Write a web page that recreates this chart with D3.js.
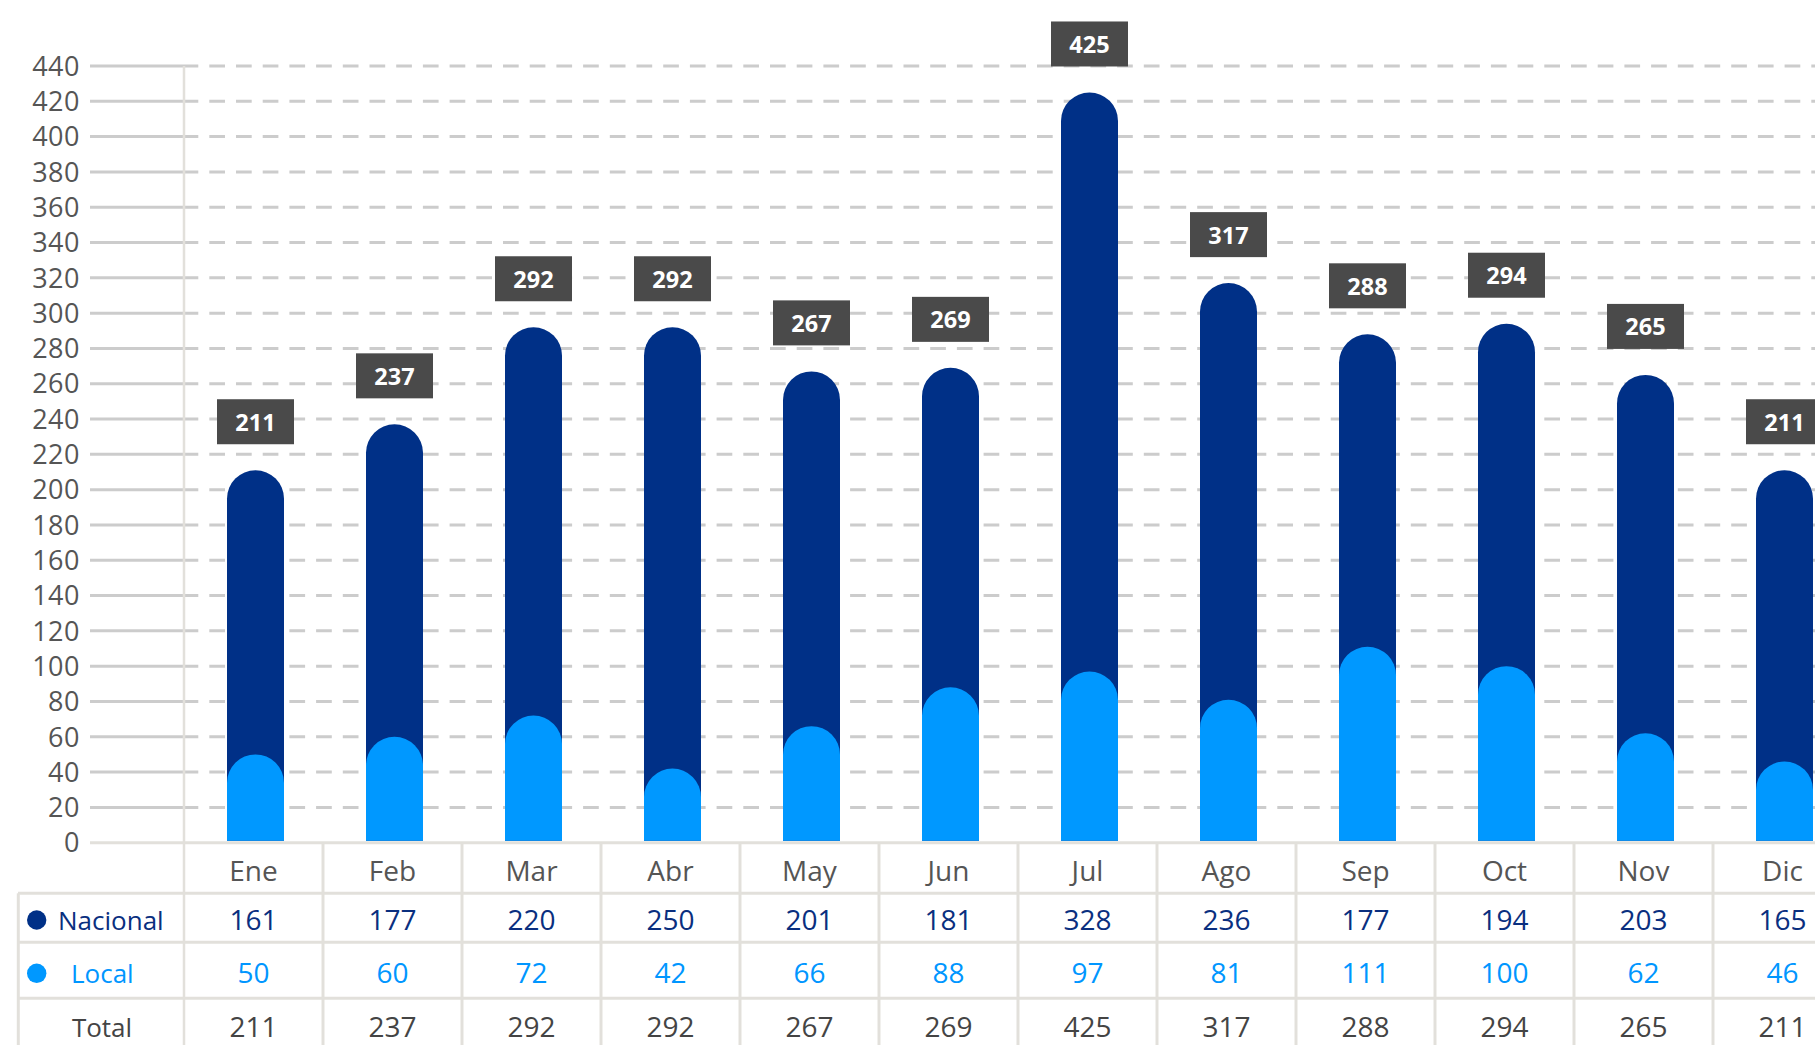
<!DOCTYPE html>
<html>
<head>
<meta charset="utf-8">
<script src="https://cdn.jsdelivr.net/npm/d3@7"></script>
<style>
  body { margin: 0; background: #fff; overflow: hidden; }
  svg { display: block; font-family: "Open Sans", sans-serif; }
</style>
</head>
<body>
<div id="scene"></div>
<script>
const months = ["Ene", "Feb", "Mar", "Abr", "May", "Jun", "Jul", "Ago", "Sep", "Oct", "Nov", "Dic"];
const nacional = [161, 177, 220, 250, 201, 181, 328, 236, 177, 194, 203, 165];
const local = [50, 60, 72, 42, 66, 88, 97, 81, 111, 100, 62, 46];
const totals = [211, 237, 292, 292, 267, 269, 425, 317, 288, 294, 265, 211];
const yTicks = [0, 20, 40, 60, 80, 100, 120, 140, 160, 180, 200, 220, 240, 260, 280, 300, 320, 340, 360, 380, 400, 420, 440];

const W = 1815, H = 1045;
const navy = "#003087", sky = "#0098ff", lineCol = "#e2e0db";

const svg = d3.select("#scene").append("svg")
  .attr("width", W)
  .attr("height", H);

const x = d3.scaleBand().domain(months).range([184, 184 + 139 * 12]);
const y = d3.scaleLinear().domain([0, 440]).range([842.7, 66]);
const barW = 57;

// gridlines: solid stub on the left, dashed across the plot
const grid = svg.append("g");
yTicks.filter(t => t > 0).forEach(t => {
  grid.append("line")
    .attr("x1", 90).attr("x2", 184)
    .attr("y1", y(t)).attr("y2", y(t))
    .style("stroke", "#cccccc").style("stroke-width", 3);
  grid.append("line")
    .attr("x1", 184).attr("x2", W)
    .attr("y1", y(t)).attr("y2", y(t))
    .style("stroke", "#cccccc").style("stroke-width", 3)
    .style("stroke-dasharray", "15.7 11")
    .style("stroke-dashoffset", 1.4);
});

svg.append("g").selectAll("text")
  .data(yTicks)
  .enter().append("text")
  .attr("x", 80)
  .attr("y", d => y(d))
  .attr("dy", "0.36em")
  .style("text-anchor", "end")
  .style("font-size", "27px")
  .style("letter-spacing", "0.5px")
  .style("fill", "#555")
  .text(d => d);

// rounded-top bar
function capBar(cx, y0, y1, w) {
  const r = w / 2;
  return `M${cx - r},${y0}L${cx - r},${y1 + r}A${r},${r} 0 0 1 ${cx + r},${y1 + r}L${cx + r},${y0}Z`;
}

const rows = months.map((m, i) => ({ m, nac: nacional[i], loc: local[i], tot: totals[i] }));
const cx = d => x(d.m) + x.bandwidth() / 2 + 2;

svg.append("g").selectAll("path")
  .data(rows)
  .enter().append("path")
  .attr("d", d => capBar(cx(d), y(0) - 2, y(d.loc + d.nac), barW))
  .style("fill", navy);

svg.append("g").selectAll("path")
  .data(rows)
  .enter().append("path")
  .attr("d", d => capBar(cx(d), y(0) - 2, y(d.loc), barW))
  .style("fill", sky);

// value boxes
const boxes = svg.append("g").selectAll("g")
  .data(rows)
  .enter().append("g")
  .attr("transform", d => `translate(${cx(d)},${y(d.tot) - 26})`);

boxes.append("rect")
  .attr("x", -38.5).attr("y", -45)
  .attr("width", 77).attr("height", 45)
  .style("fill", "#4a4a4a");

boxes.append("text")
  .attr("y", -13.5)
  .style("text-anchor", "middle")
  .style("font-size", "23.5px")
  .style("font-weight", "bold")
  .style("fill", "#fff")
  .text(d => d.tot);

// table
const table = svg.append("g");
const hLines = [
  { y: 842.7, x1: 90 },
  { y: 893.3, x1: 18 },
  { y: 942.3, x1: 18 },
  { y: 998.3, x1: 18 }
];
hLines.forEach(l => {
  table.append("line")
    .attr("x1", l.x1).attr("x2", W)
    .attr("y1", l.y).attr("y2", l.y)
    .style("stroke", lineCol).style("stroke-width", 3);
});

table.append("line")
  .attr("x1", 18.3).attr("x2", 18.3)
  .attr("y1", 893.3).attr("y2", H)
  .style("stroke", lineCol).style("stroke-width", 3);

months.forEach((m, i) => {
  table.append("line")
    .attr("x1", x(m)).attr("x2", x(m))
    .attr("y1", i === 0 ? 66 : 842.7).attr("y2", H)
    .style("stroke", lineCol).style("stroke-width", i === 0 ? 2.5 : 3);
});

const rowSpec = [
  { key: "m", baseline: 881, fill: "#555" },
  { key: "nac", baseline: 930, fill: "#0a2f7f" },
  { key: "loc", baseline: 983, fill: "#0096ff" },
  { key: "tot", baseline: 1037, fill: "#444" }
];
rowSpec.forEach(r => {
  table.append("g").selectAll("text")
    .data(rows)
    .enter().append("text")
    .attr("x", d => x(d.m) + x.bandwidth() / 2)
    .attr("y", r.baseline)
    .style("text-anchor", "middle")
    .style("font-size", "28px")
    .style("fill", r.fill)
    .text(d => d[r.key]);
});

// row labels
table.append("circle").attr("cx", 36.7).attr("cy", 920).attr("r", 9.7).style("fill", navy);
table.append("circle").attr("cx", 36.7).attr("cy", 973.3).attr("r", 9.7).style("fill", sky);

table.append("text")
  .attr("x", 58).attr("y", 930)
  .style("font-size", "26px").style("fill", "#0a2f7f")
  .text("Nacional");

table.append("text")
  .attr("x", 71).attr("y", 983)
  .style("font-size", "26px").style("fill", "#0096ff")
  .text("Local");

table.append("text")
  .attr("x", 102).attr("y", 1037)
  .style("text-anchor", "middle")
  .style("font-size", "26px").style("fill", "#444")
  .text("Total");
</script>
</body>
</html>
